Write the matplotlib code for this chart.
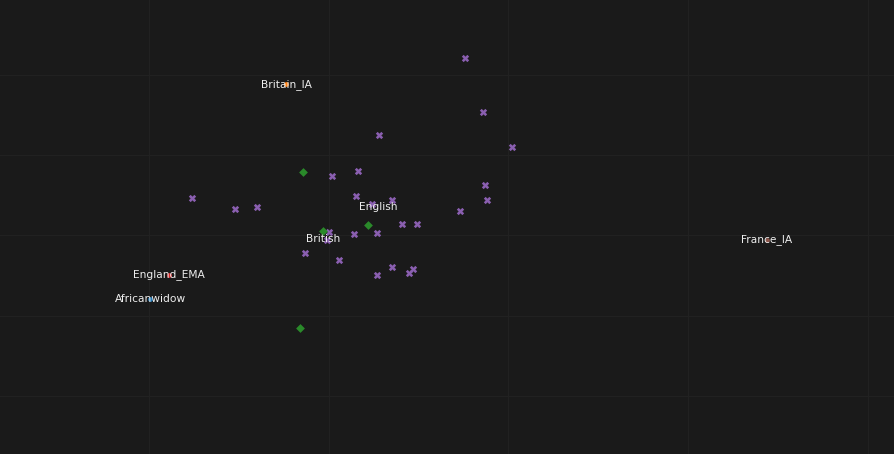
import numpy as np
import matplotlib
matplotlib.use("Agg")
import matplotlib.pyplot as plt

# English samples (purple crosses)
english_x = [1.758, 1.859, 1.280, 2.020, 1.163, 1.018, 1.870, 0.239, 1.152, 1.352,
             1.881, 0.479, 0.601, 1.731, 1.241, 1.408, 1.491, 1.002, 1.141, 1.269,
             0.991, 0.868, 1.057, 1.269, 1.352, 1.447, 1.469]
english_y = [4.209, 3.537, 3.250, 3.101, 2.802, 2.740, 2.628, 2.466, 2.491, 2.441,
             2.441, 2.329, 2.354, 2.304, 2.391, 2.142, 2.142, 2.042, 2.017, 2.030,
             1.943, 1.781, 1.694, 1.507, 1.606, 1.532, 1.582]

# British samples (green diamonds)
british_x = [0.857, 1.219, 0.968, 0.840]
british_y = [2.793, 2.130, 2.055, 0.847]

# single reference samples
single_names = ["Africanwidow", "Britain_IA", "England_EMA", "France_IA"]
single_x = [0.006, 0.765, 0.111, 3.439]
single_y = [1.208, 3.885, 1.507, 1.943]
single_colors = ["#1f77b4", "#ff7f0e", "#d62728", "#8c564b"]

bg = "#1a1a1a"
fig = plt.figure(figsize=(8.95, 4.54), dpi=100, facecolor=bg)
ax = fig.add_axes([0, 0, 1, 1], facecolor=bg)

ax.scatter(english_x, english_y, marker="X", s=28, color="#8a5fb0", linewidths=0, zorder=3)
ax.scatter(british_x, british_y, marker="D", s=20, color="#2a8a2a", linewidths=0, zorder=3)
for name, x, y, c in zip(single_names, single_x, single_y, single_colors):
    ax.scatter([x], [y], s=12, color=c, linewidths=0, zorder=3)
    ax.text(x, y, name, color="#eeeeee", fontsize=7.7, ha="center", va="center", zorder=4)

# group labels at the centroid
ax.text(np.mean(english_x), np.mean(english_y), "English", color="#eeeeee",
        fontsize=7.7, ha="center", va="center", zorder=4)
ax.text(np.mean(british_x), np.mean(british_y), "British", color="#eeeeee",
        fontsize=7.7, ha="center", va="center", zorder=4)

ax.set_xlim(-0.829, 4.151)
ax.set_ylim(-0.722, 4.932)
ax.set_xticks(range(0, 5))
ax.set_yticks(range(0, 5))
ax.grid(True, color="#212121", linewidth=0.8)
ax.tick_params(length=0, labelbottom=False, labelleft=False)
for s in ax.spines.values():
    s.set_visible(False)
ax.set_axisbelow(True)

fig.savefig("out.png", dpi=100, facecolor=bg)
